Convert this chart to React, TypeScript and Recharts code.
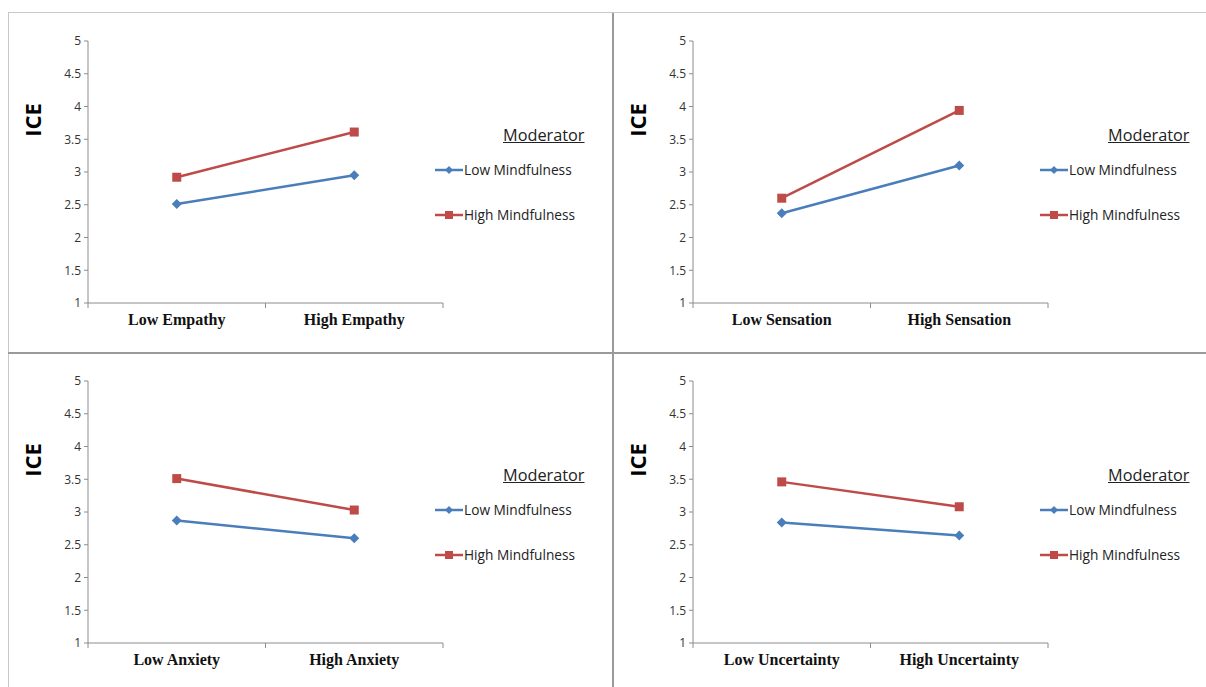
import React from 'react';
import { LineChart, Line, XAxis, YAxis, Legend } from 'recharts';

const seriesNames = ['Low Mindfulness', 'High Mindfulness'];
const yTicks = [1, 1.5, 2, 2.5, 3, 3.5, 4, 4.5, 5];

const empathyCats = ['Low Empathy', 'High Empathy'];
const empathyLow = [2.51, 2.95];
const empathyHigh = [2.92, 3.61];

const sensationCats = ['Low Sensation', 'High Sensation'];
const sensationLow = [2.37, 3.1];
const sensationHigh = [2.6, 3.94];

const anxietyCats = ['Low Anxiety', 'High Anxiety'];
const anxietyLow = [2.87, 2.6];
const anxietyHigh = [3.51, 3.03];

const uncertaintyCats = ['Low Uncertainty', 'High Uncertainty'];
const uncertaintyLow = [2.84, 2.64];
const uncertaintyHigh = [3.46, 3.08];

const BLUE = '#4a7ebb';
const RED = '#be4b48';
const AXIS = '#8c8c8c';
const SANS = '"Open Sans", "Noto Sans", sans-serif';
const SERIF = '"Liberation Serif", "Times New Roman", serif';

const build = (cats: string[], low: number[], high: number[]) =>
  cats.map((c, i) => ({ cat: c, low: low[i], high: high[i] }));

const Diamond = (props: any) => {
  const { cx, cy } = props;
  if (cx == null || cy == null) return null;
  const r = 5;
  return <path d={`M${cx},${cy - r}L${cx + r},${cy}L${cx},${cy + r}L${cx - r},${cy}Z`} fill={BLUE} />;
};
const Square = (props: any) => {
  const { cx, cy } = props;
  if (cx == null || cy == null) return null;
  const r = 4.5;
  return <rect x={cx - r} y={cy - r} width={2 * r} height={2 * r} fill={RED} />;
};

const XTick = (props: any) => {
  const { x, y, payload, index, visibleTicksCount } = props;
  const off = payload.offset || 0;
  const ay = y - 8;
  return (
    <g>
      <line x1={x - off} x2={x - off} y1={ay} y2={ay + 5} stroke={AXIS} />
      {index === visibleTicksCount - 1 && (
        <line x1={x + off} x2={x + off} y1={ay} y2={ay + 5} stroke={AXIS} />
      )}
      <text x={x} y={y + 14} textAnchor="middle" fontFamily={SERIF} fontWeight="bold" fontSize={16} fill="#111">
        {payload.value}
      </text>
    </g>
  );
};

const renderLegend = (props: any) => {
  const payload = [...(props.payload || [])].sort(
    (a: any, b: any) => seriesNames.indexOf(a.value) - seriesNames.indexOf(b.value)
  );
  return (
    <div style={{ position: 'relative', width: 175, height: 120 }}>
      <div
        style={{
          position: 'absolute',
          left: 68,
          top: -1,
          fontFamily: SANS,
          fontSize: 16.3,
          color: '#222',
          textDecoration: 'underline',
          whiteSpace: 'nowrap',
        }}
      >
        Moderator
      </div>
      {payload.map((p: any) => {
        const isLow = p.dataKey === 'low';
        return (
          <div
            key={p.value}
            style={{ position: 'absolute', left: 0, top: isLow ? 37 : 82, display: 'flex', alignItems: 'center', whiteSpace: 'nowrap' }}
          >
            <svg width={29} height={12} style={{ display: 'block' }}>
              <line x1={0} x2={28} y1={6} y2={6} stroke={p.color} strokeWidth={2.5} />
              {isLow ? (
                <path d="M14,2L18,6L14,10L10,6Z" fill={p.color} />
              ) : (
                <rect x={10} y={2} width={8} height={8} fill={p.color} />
              )}
            </svg>
            <span style={{ fontFamily: SANS, fontSize: 13.7, color: '#222', lineHeight: '16px' }}>{p.value}</span>
          </div>
        );
      })}
    </div>
  );
};

const IceLabel = (props: any) => {
  const { viewBox } = props;
  const x = viewBox.x + 24;
  const y = viewBox.y + 79;
  return (
    <text
      x={x}
      y={y}
      transform={`rotate(-90, ${x}, ${y})`}
      textAnchor="middle"
      dominantBaseline="central"
      fontFamily={SANS}
      fontWeight="bold"
      fontSize={22}
      fill="#000"
    >
      ICE
    </text>
  );
};

const Panel = ({ cats, low, high, left, top, height }: any) => {
  const data = build(cats, low, high);
  return (
    <div style={{ position: 'absolute', left, top }}>
      <LineChart width={605} height={height} data={data} margin={{ top: 28, right: 170, bottom: height - 290 - 30, left: 0 }}>
        <XAxis
          dataKey="cat"
          scale="band"
          axisLine={{ stroke: AXIS }}
          tickLine={false}
          tick={<XTick />}
          height={30}
          interval={0}
        />
        <YAxis
          type="number"
          domain={[1, 5]}
          ticks={yTicks}
          width={80}
          axisLine={{ stroke: AXIS }}
          tickLine={{ stroke: AXIS }}
          tickSize={4}
          tickMargin={3}
          tick={{ fontFamily: SANS, fontSize: 12, fill: '#333' }}
          interval={0}
          label={<IceLabel />}
        />
        <Legend
          layout="vertical"
          align="center"
          verticalAlign="middle"
          content={renderLegend}
          wrapperStyle={{ left: 427, top: 112, width: 175, height: 120 }}
        />
        <Line
          dataKey="low"
          name={seriesNames[0]}
          stroke={BLUE}
          strokeWidth={2.5}
          dot={<Diamond />}
          activeDot={false}
          isAnimationActive={false}
        />
        <Line
          dataKey="high"
          name={seriesNames[1]}
          stroke={RED}
          strokeWidth={2.5}
          dot={<Square />}
          activeDot={false}
          isAnimationActive={false}
        />
      </LineChart>
    </div>
  );
};

export default function App() {
  return (
    <div
      style={{
        position: 'fixed',
        left: 0,
        top: 0,
        width: 1206,
        height: 687,
        overflow: 'hidden',
        background: '#fff',
      }}
    >
      <div style={{ position: 'absolute', left: 8, top: 12, width: 1198, height: 1, background: '#c8c8c8' }} />
      <div style={{ position: 'absolute', left: 8, top: 12, width: 1, height: 675, background: '#c8c8c8' }} />
      <Panel cats={empathyCats} low={empathyLow} high={empathyHigh} left={8} top={13} height={339} />
      <Panel cats={sensationCats} low={sensationLow} high={sensationHigh} left={613} top={13} height={339} />
      <Panel cats={anxietyCats} low={anxietyLow} high={anxietyHigh} left={8} top={353} height={334} />
      <Panel cats={uncertaintyCats} low={uncertaintyLow} high={uncertaintyHigh} left={613} top={353} height={334} />
      <div style={{ position: 'absolute', left: 612, top: 13, width: 2, height: 674, background: '#9a9a9a' }} />
      <div style={{ position: 'absolute', left: 8, top: 352, width: 1198, height: 2, background: '#9a9a9a' }} />
    </div>
  );
}
